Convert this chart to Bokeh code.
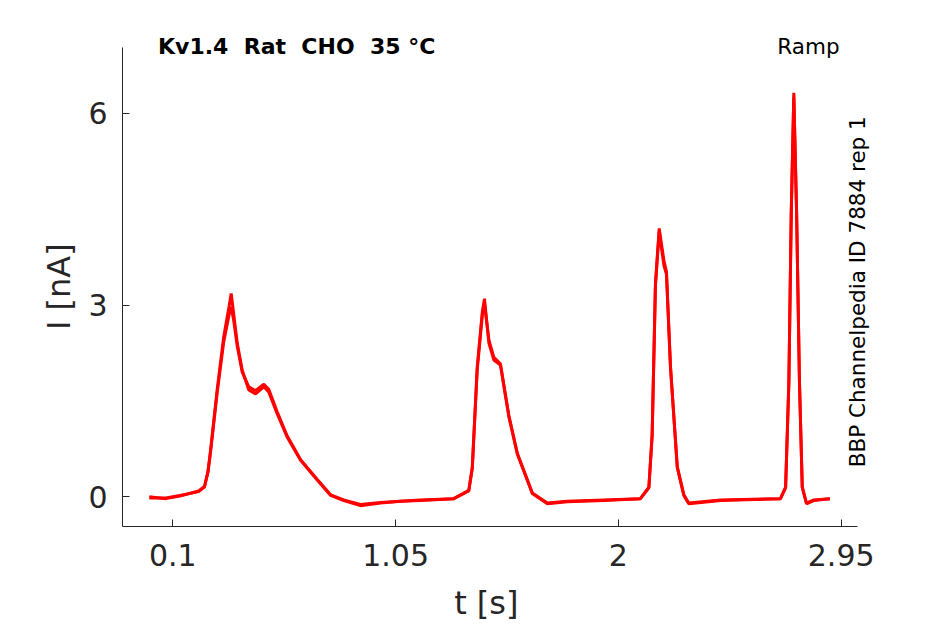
import math
from bokeh.plotting import figure
from bokeh.models import Label, FixedTicker, Range1d
from bokeh.embed import file_html
from bokeh.resources import INLINE

# Time [s] and current [nA] for two overlaid repetitions
t_s = [0.00, 0.07, 0.13, 0.21, 0.235, 0.25, 0.261, 0.289, 0.317, 0.340, 0.349,
       0.360, 0.375, 0.396, 0.424, 0.453, 0.488, 0.509, 0.545, 0.588, 0.645, 0.716,
       0.773, 0.829, 0.900, 0.986, 1.071, 1.156, 1.298, 1.362, 1.377, 1.398,
       1.420, 1.429, 1.437, 1.448, 1.469, 1.497, 1.533, 1.569, 1.633, 1.697, 1.782, 1.938,
       2.094, 2.130, 2.144, 2.158, 2.174, 2.194, 2.205, 2.222, 2.251, 2.279,
       2.300, 2.436, 2.691, 2.713, 2.727, 2.737, 2.748, 2.760, 2.772, 2.784,
       2.802, 2.833, 2.902]
i_rep_a = [-0.02, -0.02, 0.02, 0.08, 0.15, 0.40, 0.73, 1.67, 2.50, 2.98, 3.18,
           2.85, 2.40, 1.98, 1.67, 1.61, 1.72, 1.64, 1.30, 0.93, 0.57, 0.26,
           0.02, -0.06, -0.14, -0.10, -0.07, -0.06, -0.03, 0.10, 0.46, 2.03,
           2.90, 3.10, 2.80, 2.40, 2.14, 2.06, 1.25, 0.67, 0.05, -0.11, -0.08, -0.06,
           -0.03, 0.15, 0.99, 3.34, 4.20, 3.70, 3.52, 2.03, 0.46, 0.02,
           -0.11, -0.06, -0.03, 0.15, 1.82, 4.44, 6.32, 4.44, 1.82, 0.15,
           -0.11, -0.06, -0.03]
i_rep_b = [0.00, -0.03, 0.01, 0.09, 0.16, 0.38, 0.70, 1.62, 2.42, 2.85, 2.97,
           2.75, 2.35, 1.95, 1.72, 1.66, 1.76, 1.68, 1.33, 0.95, 0.58, 0.27,
           0.03, -0.05, -0.12, -0.09, -0.07, -0.05, -0.03, 0.09, 0.44, 1.98,
           2.85, 3.02, 2.78, 2.45, 2.18, 2.08, 1.27, 0.68, 0.06, -0.10, -0.07, -0.05,
           -0.03, 0.14, 0.95, 3.30, 4.15, 3.62, 3.48, 2.05, 0.47, 0.03,
           -0.10, -0.05, -0.03, 0.14, 1.78, 4.40, 6.25, 4.42, 1.80, 0.15,
           -0.10, -0.05, -0.03]

x_ticks = [0.1, 1.05, 2, 2.95]
x_tick_labels = ["0.1", "1.05", "2", "2.95"]
y_ticks = [0, 3, 6]
y_tick_labels = ["0", "3", "6"]

# axis extents (the drawn axes) and a little extra room for the texts
x_axis_bounds = (-0.1145, 3.018)
y_axis_bounds = (-0.466, 7.03)

title_text = "Kv1.4\u00a0 Rat\u00a0 CHO\u00a0 35 °C"
protocol_text = "Ramp"
source_text = "BBP Channelpedia ID 7884 rep 1"

p = figure(width=945, height=624, output_backend="svg", toolbar_location=None,
           x_range=Range1d(x_axis_bounds[0], 3.075),
           y_range=Range1d(y_axis_bounds[0], 7.359),
           min_border_left=122, min_border_right=75,
           min_border_top=26, min_border_bottom=98)
p.title.visible = False
p.outline_line_color = None
p.xgrid.visible = False
p.ygrid.visible = False
p.background_fill_color = "white"
p.border_fill_color = "white"

for arr in (i_rep_a, i_rep_b):
    p.line(t_s, arr, line_color="#ff0000", line_width=3)

axis_col = "#262626"
for ax in (p.xaxis[0], p.yaxis[0]):
    ax.axis_line_color = axis_col
    ax.major_tick_line_color = axis_col
    ax.major_tick_in = 7
    ax.major_tick_out = 0
    ax.minor_tick_line_color = None
    ax.major_label_text_font = "DejaVu Sans"
    ax.major_label_text_font_size = "30px"
    ax.major_label_text_color = axis_col
    ax.axis_label_text_font = "DejaVu Sans"
    ax.axis_label_text_font_size = "32px"
    ax.axis_label_text_font_style = "normal"
    ax.axis_label_text_color = axis_col

p.xaxis.bounds = x_axis_bounds
p.yaxis.bounds = y_axis_bounds
p.xaxis.ticker = FixedTicker(ticks=x_ticks, minor_ticks=[])
p.xaxis.major_label_overrides = {k: v for k, v in zip(x_ticks, x_tick_labels)}
p.yaxis.ticker = FixedTicker(ticks=y_ticks, minor_ticks=[])
p.yaxis.major_label_overrides = {k: v for k, v in zip(y_ticks, y_tick_labels)}
# trailing no-break spaces centre the labels on the drawn axes, not the frame
p.xaxis.axis_label = "t [s]\u00a0\u00a0"
p.yaxis.axis_label = "I [nA]\u00a0\u00a0"
p.xaxis.major_label_standoff = 17
p.yaxis.major_label_standoff = 15
p.xaxis.axis_label_standoff = 15
p.yaxis.axis_label_standoff = 7

p.add_layout(Label(x=0.037, y=7.04, text=title_text, text_font="DejaVu Sans",
                   text_font_style="bold", text_font_size="22px",
                   text_color="black", text_align="left",
                   text_baseline="alphabetic"))
p.add_layout(Label(x=2.943, y=7.05, text=protocol_text, text_font="DejaVu Sans",
                   text_font_size="21.5px", text_color="black",
                   text_align="right", text_baseline="alphabetic"))
p.add_layout(Label(x=3.021, y=0.46, text=source_text, angle=math.pi / 2,
                   text_font="DejaVu Sans", text_font_size="21.5px",
                   text_color="black", text_align="left",
                   text_baseline="alphabetic"))

open("out.html", "w").write(file_html(p, INLINE))
